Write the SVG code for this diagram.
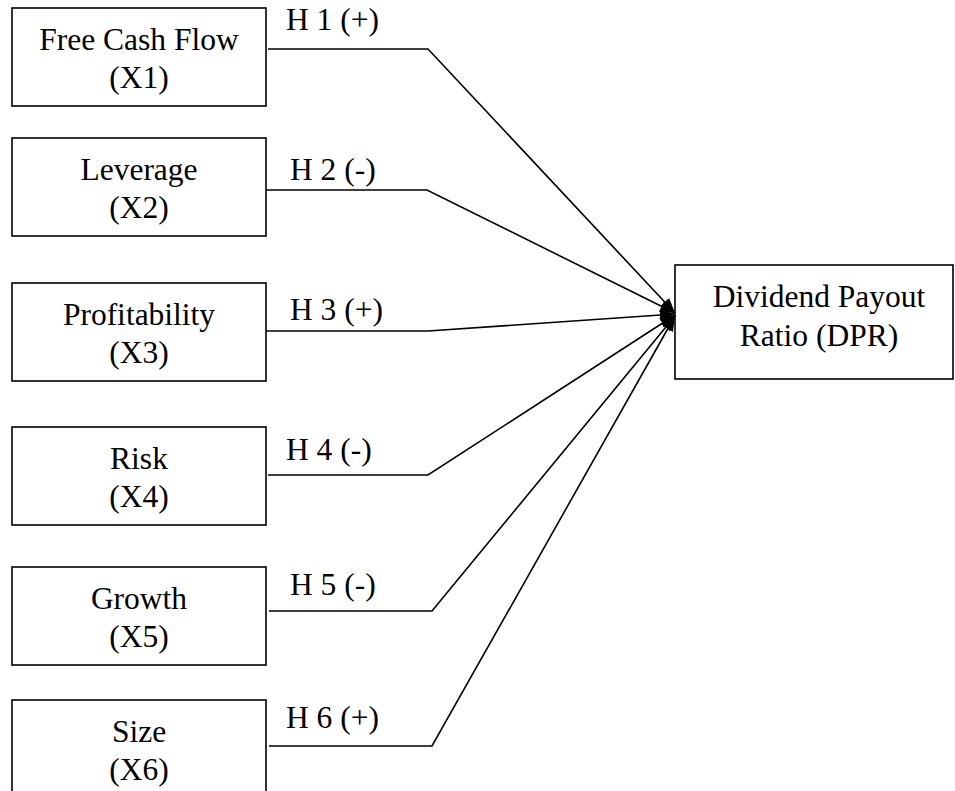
<svg xmlns="http://www.w3.org/2000/svg" width="955" height="791" viewBox="0 0 955 791">
<style>
.box{fill:#fff;stroke:#000;stroke-width:1.6}
.t{font-family:"Liberation Serif","Times New Roman",serif;font-size:31.5px;fill:#000}
.c{text-anchor:middle}
.ln{fill:none;stroke:#000;stroke-width:1.6;marker-end:url(#ah)}
</style>
<defs>
<marker id="ah" markerUnits="userSpaceOnUse" markerWidth="16" markerHeight="12" refX="15" refY="6" orient="auto">
<path d="M0,0 L15,6 L0,12 Z" fill="#000"/>
</marker>
</defs>
<g id="x1"><rect class="box" x="12" y="8" width="254" height="98"/><text class="t c" x="139" y="50">Free Cash Flow</text><text class="t c" x="139" y="88">(X1)</text></g>
<g id="x2"><rect class="box" x="12" y="138" width="254" height="98"/><text class="t c" x="139" y="180">Leverage</text><text class="t c" x="139" y="218">(X2)</text></g>
<g id="x3"><rect class="box" x="12" y="283" width="254" height="98"/><text class="t c" x="139" y="325">Profitability</text><text class="t c" x="139" y="363">(X3)</text></g>
<g id="x4"><rect class="box" x="12" y="427" width="254" height="98"/><text class="t c" x="139" y="469">Risk</text><text class="t c" x="139" y="507">(X4)</text></g>
<g id="x5"><rect class="box" x="12" y="567" width="254" height="98"/><text class="t c" x="139" y="609">Growth</text><text class="t c" x="139" y="647">(X5)</text></g>
<g id="x6"><rect class="box" x="12" y="700" width="254" height="98"/><text class="t c" x="139" y="742">Size</text><text class="t c" x="139" y="780">(X6)</text></g>
<g id="dpr"><rect class="box" x="675" y="265" width="278" height="114"/><text class="t c" x="819" y="307">Dividend Payout</text><text class="t c" x="819" y="346">Ratio (DPR)</text></g>
<g id="connectors">
<polyline class="ln" points="268,49 428,49 675,313"/>
<polyline class="ln" points="266,190 427,190 675,313"/>
<polyline class="ln" points="266,331 428,331 675,314"/>
<polyline class="ln" points="268,475 428,475 675,315"/>
<polyline class="ln" points="269,611 432,611 675,316"/>
<polyline class="ln" points="269,746 432,746 675,316"/>
<text class="t" x="286" y="30">H 1 (+)</text>
<text class="t" x="290" y="180">H 2 (-)</text>
<text class="t" x="290" y="320">H 3 (+)</text>
<text class="t" x="286" y="460">H 4 (-)</text>
<text class="t" x="290" y="595">H 5 (-)</text>
<text class="t" x="286" y="728">H 6 (+)</text>
</g>
</svg>
